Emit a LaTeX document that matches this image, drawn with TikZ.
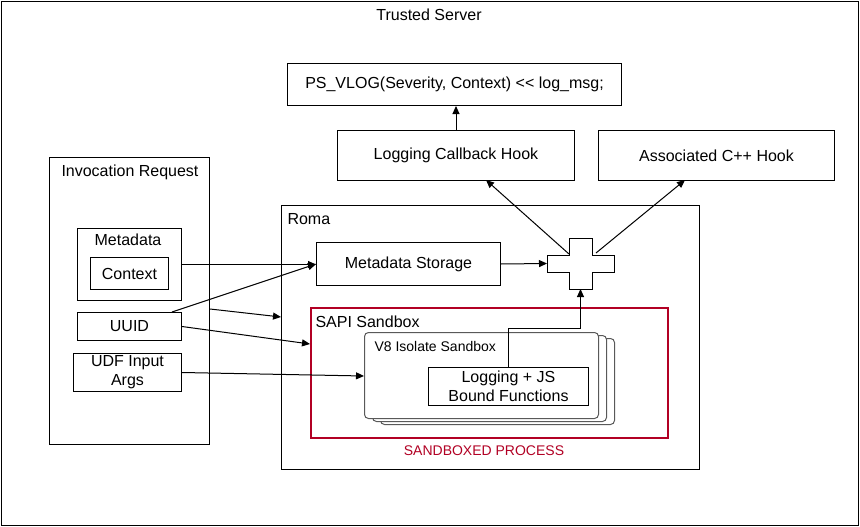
\documentclass[tikz,border=0pt]{standalone}
\usepackage{fontspec}
\setmainfont{Liberation Sans}
\usetikzlibrary{arrows.meta,calc}
\definecolor{sred}{RGB}{178,0,36}
\begin{document}
\begin{tikzpicture}[x=1pt,y=-1pt,line width=1pt,
  font=\fontsize{16}{19}\selectfont,
  box/.style={draw,anchor=north west,inner sep=0pt,align=center,fill=white},
  lbl/.style={inner sep=0pt,anchor=west},
  arr/.style={-{Triangle[length=8pt,width=7pt]}},
  v8box/.style={draw=black!65,fill=white,rounded corners=4pt,anchor=north west,inner sep=0pt,minimum width=234,minimum height=86}]
\useasboundingbox (0,0) rectangle (860,527);
% outer frame
\node[box,minimum width=857,minimum height=524] (server) at (1,1) {};
\node[inner sep=0pt] (servert) at (429,15) {Trusted Server};
% top boxes
\node[box,minimum width=334,minimum height=42] (ps) at (287,63) {PS\_VLOG(Severity, Context) {<}{<} log\_msg;};
\node[box,minimum width=237,minimum height=50] (lch) at (337,130) {Logging Callback Hook};
\node[box,minimum width=236,minimum height=50] (ach) at (598,130) {Associated C++ Hook};
% invocation request
\node[box,minimum width=160,minimum height=287] (inv) at (49,157) {};
\node[lbl] (invt) at (61,172) {Invocation Request};
\node[box,minimum width=104,minimum height=72] (meta) at (77,228) {};
\node[inner sep=0pt] (metat) at (128,240) {Metadata};
\node[box,minimum width=78,minimum height=32] (ctx) at (90,257) {Context};
\node[box,minimum width=104,minimum height=28] (uuid) at (77,312) {UUID};
\node[box,minimum width=108,minimum height=38] (udf) at (73,353) {UDF Input\\Args};
% roma
\node[box,minimum width=418,minimum height=264] (roma) at (281,205) {};
\node[lbl] (romat) at (287,219) {Roma};
\node[box,minimum width=184,minimum height=43] (mstore) at (316,242) {Metadata Storage};
% cross
\draw[fill=white] (569,238) -- (592,238) -- (592,255) -- (614,255) -- (614,272) -- (592,272)
  -- (592,289) -- (569,289) -- (569,272) -- (547,272) -- (547,255) -- (569,255) -- cycle;
\coordinate (crossW) at (547,263.5);
\coordinate (crossS) at (580.5,289);
\coordinate (crossNW) at (569,254);
\coordinate (crossNE) at (596,253);
\coordinate (lchin) at (486,180);
\coordinate (achin) at (685,180);
% SAPI sandbox
\node[box,draw=sred,line width=2pt,minimum width=357,minimum height=130] (sapi) at (310,307) {};
\node[lbl] (sapit) at (315,322) {SAPI Sandbox};
\node[inner sep=0pt,text=sred,font=\fontsize{14}{17}\selectfont] (sbp) at (484,451) {SANDBOXED PROCESS};
% V8 stack
\node[v8box] (v8c) at (380,338) {};
\node[v8box] (v8b) at (372,335) {};
\node[v8box] (v8a) at (364,332) {};
\node[lbl,font=\fontsize{14}{17}\selectfont] (v8t) at (374,346) {V8 Isolate Sandbox};
\node[box,minimum width=160,minimum height=38] (log) at (428,367) {Logging + JS\\Bound Functions};
% connectors
\draw[arr] (lch.north) -- (lch.north |- ps.south);
\draw[arr] (crossNW) -- (lchin);
\draw[arr] (crossNE) -- (achin);
\draw[arr] (mstore.east) -- (crossW);
\draw[arr] (log.north) |- (crossS |- 0,328) -- (crossS);
\draw[arr] (meta.east) -- (meta.east -| mstore.west);
\draw[arr] ($(uuid.north east)+(-10,0)$) -- (mstore.west);
\draw[arr] (inv.east |- 0,309) -- (roma.west |- 0,317);
\draw[arr] (uuid.east) -- (sapi.west |- 0,344);
\draw[arr] (udf.east) -- (v8a.west |- 0,376);
\end{tikzpicture}
\end{document}
